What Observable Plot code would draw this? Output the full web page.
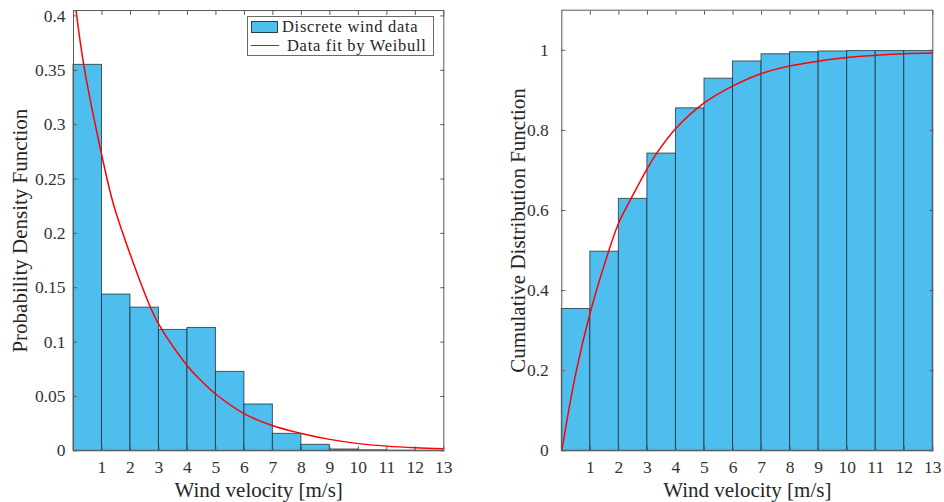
<!DOCTYPE html>
<html>
<head>
<meta charset="utf-8">
<script src="https://cdn.jsdelivr.net/npm/d3@7"></script>
<script src="https://cdn.jsdelivr.net/npm/@observablehq/plot@0.6"></script>
<style>
  html, body { margin: 0; padding: 0; background: #fff; }
  #wrap { position: relative; width: 944px; height: 502px; display: flex; font-family: "Liberation Serif", serif; color: #262626; }
  #legend { position: absolute; left: 247px; top: 16px; width: 187px; height: 40px; border: 1px solid #6a6a6a; background: #fff; font-size: 16.5px; letter-spacing: 0.7px; box-sizing: border-box; }
  #legend .row { position: absolute; left: 0; width: 185px; height: 19px; }
  #legend .label { position: absolute; top: 0; display: block; height: 19px; line-height: 19px; white-space: nowrap; overflow: visible; }
  #legend .patch { position: absolute; left: 3px; width: 27px; height: 12px; background: #4DBEEE; border: 1px solid #2a3f4a; box-sizing: border-box; }
  #legend .line { position: absolute; left: 3px; width: 28px; height: 0; border-top: 1.5px solid #ff0000; }
</style>
</head>
<body>
<div id="wrap"></div>
<script>
// Wind speed bins [m/s]
const binEdges = [0, 1, 2, 3, 4, 5, 6, 7, 8, 9, 10, 11, 12, 13];
// Relative frequency per 1 m/s bin
const pdfValues = [0.355, 0.1437, 0.1317, 0.1112, 0.1130, 0.0726, 0.0426, 0.0156, 0.0055, 0.0012, 0.0005, 0.0002, 0.0001];
// Cumulative frequency per bin
const cdfValues = [0.354, 0.497, 0.629, 0.742, 0.855, 0.929, 0.972, 0.990, 0.995, 0.997, 0.998, 0.998, 0.998];

// Fitted Weibull density, sampled
const pdfFitX = [0, 0.36, 1, 1.39, 2, 2.7, 3, 4, 4.46, 5, 6, 7, 8, 9, 10, 11, 12, 13];
const pdfFitY = [0.424, 0.355, 0.271, 0.228, 0.180, 0.132, 0.116, 0.078, 0.065, 0.052, 0.034, 0.023, 0.016, 0.0105, 0.0066, 0.0043, 0.0028, 0.0018];
// Fitted Weibull cumulative distribution, sampled
const cdfFitX = [0, 0.48, 1, 1.65, 2, 2.43, 3, 3.33, 4, 5, 6, 7, 8, 9, 10, 11, 12, 13];
const cdfFitY = [0, 0.19, 0.346, 0.50, 0.57, 0.63, 0.705, 0.743, 0.805, 0.869, 0.911, 0.942, 0.961, 0.973, 0.982, 0.9875, 0.9915, 0.993];

// Axis ticks
const xTicks = [1, 2, 3, 4, 5, 6, 7, 8, 9, 10, 11, 12, 13];
const xTickLabels = ["1", "2", "3", "4", "5", "6", "7", "8", "9", "10", "11", "12", "13"];
const pdfTicks = [0, 0.05, 0.1, 0.15, 0.2, 0.25, 0.3, 0.35, 0.4];
const pdfTickLabels = ["0", "0.05", "0.1", "0.15", "0.2", "0.25", "0.3", "0.35", "0.4"];
const cdfTicks = [0, 0.2, 0.4, 0.6, 0.8, 1];
const cdfTickLabels = ["0", "0.2", "0.4", "0.6", "0.8", "1"];

const xLabel = "Wind velocity [m/s]";
const legendBars = "Discrete wind data";
const legendFit = "Data fit by Weibull";

const bins = pdfValues.map((v, i) => ({x1: binEdges[i], x2: binEdges[i + 1], pdf: v, cdf: cdfValues[i]}));
const pdfFit = pdfFitX.map((x, i) => ({x, y: pdfFitY[i]}));
const cdfFit = cdfFitX.map((x, i) => ({x, y: cdfFitY[i]}));

const axisColor = "#5a5a5a";
const barFill = "#4DBEEE";

function panel({width, marginLeft, marginRight, marginTop, yDomain, yKey, fit, yTicks, yTickLabels, yLabel, yLabelDx, yTickPad}) {
  return Plot.plot({
    width, height: 502,
    marginLeft, marginRight, marginTop, marginBottom: 502 - 450.3,
    style: {fontFamily: "Liberation Serif, serif", fontSize: "17.5px", color: "#333", background: "#fff", overflow: "visible"},
    x: {domain: [0, 13]},
    y: {domain: yDomain},
    marks: [
      Plot.rectY(bins, {x1: "x1", x2: "x2", y: yKey, fill: barFill, stroke: "#1e2a30", strokeOpacity: 0.75, strokeWidth: 1}),
      Plot.line(fit, {x: "x", y: "y", stroke: "#ff0000", strokeWidth: 1.5, curve: "catmull-rom", clip: true}),
      Plot.frame({stroke: axisColor, strokeWidth: 1}),
      Plot.axisX(xTicks, {anchor: "bottom", tickSize: -4, tickPadding: 14, stroke: axisColor, label: null,
        tickFormat: d => xTickLabels[xTicks.indexOf(d)]}),
      Plot.axisX(xTicks, {anchor: "top", tickSize: -4, stroke: axisColor, label: null, tickFormat: () => ""}),
      Plot.axisY(yTicks, {anchor: "left", tickSize: -4, tickPadding: yTickPad, stroke: axisColor, label: null,
        tickFormat: d => yTickLabels[yTicks.indexOf(d)]}),
      Plot.axisY(yTicks, {anchor: "right", tickSize: -4, stroke: axisColor, label: null, tickFormat: () => ""}),
      Plot.text([xLabel], {frameAnchor: "bottom", dy: 46, textAnchor: "middle", lineAnchor: "bottom", fontSize: 21, fill: "#262626"}),
      Plot.text([yLabel], {frameAnchor: "left", dx: yLabelDx, rotate: -90, textAnchor: "middle", lineAnchor: "middle", fontSize: 21, fill: "#262626"})
    ]
  });
}

const wrap = document.getElementById("wrap");

wrap.appendChild(panel({
  width: 470, marginLeft: 73, marginRight: 470 - 443.3, marginTop: 10,
  yDomain: [0, 0.405], yKey: "pdf", fit: pdfFit,
  yTicks: pdfTicks, yTickLabels: pdfTickLabels,
  yLabel: "Probability Density Function", yLabelDx: -53, yTickPad: 12
}));

wrap.appendChild(panel({
  width: 474, marginLeft: 561.3 - 470, marginRight: 944 - 932.3, marginTop: 9.7,
  yDomain: [0, 1.1], yKey: "cdf", fit: cdfFit,
  yTicks: cdfTicks, yTickLabels: cdfTickLabels,
  yLabel: "Cumulative Distribution Function", yLabelDx: -44, yTickPad: 17
}));

// Legend for the density panel
const legend = document.createElement("div");
legend.id = "legend";
legend.innerHTML =
  `<div class="row" style="top:0px"><span class="patch" style="top:4px"></span><span class="label" style="left:34px">${legendBars}</span></div>` +
  `<div class="row" style="top:19px"><span class="line" style="top:9px"></span><span class="label" style="left:39px">${legendFit}</span></div>`;
wrap.appendChild(legend);
</script>
</body>
</html>
